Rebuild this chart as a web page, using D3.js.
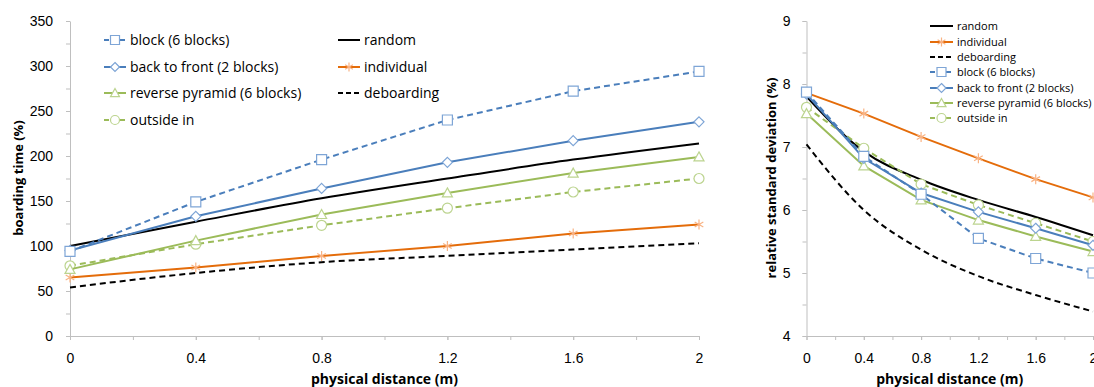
<html>
<head>
<meta charset="utf-8">
<title>Boarding time and relative standard deviation</title>
<style>
body { margin: 0; background: #fff; }
svg { font-family: "Open Sans", sans-serif; }
.axis path, .axis line { stroke: #bfbfbf; }
.axis text { fill: #000; font-size: 14px; }
.title { font-weight: bold; font-size: 14px; }
</style>
</head>
<body>
<script src="https://d3js.org/d3.v7.min.js"></script>
<script>

// x values (m)
var distances = [0, 0.4, 0.8, 1.2, 1.6, 2];

// boarding time (%) - left chart
var btRandom     = [100, 127, 153, 175, 196, 214];
var btIndividual = [65, 76, 89, 100, 114, 124];
var btDeboarding = [54, 70, 82, 89, 96, 103];
var btBlock      = [94, 149, 196, 240, 272, 294];
var btBackFront  = [95, 133, 164, 193, 217, 238];
var btPyramid    = [74, 106, 135, 159, 181, 199];
var btOutsideIn  = [78, 102, 123, 142, 160, 175];

// relative standard deviation (%) - right chart
var sdRandom     = [7.8, 6.93, 6.48, 6.16, 5.89, 5.6];
var sdIndividual = [7.86, 7.53, 7.16, 6.82, 6.49, 6.2];
var sdDeboarding = [7.04, 6.0, 5.37, 4.95, 4.65, 4.39];
var sdBlock      = [7.87, 6.85, 6.25, 5.55, 5.23, 5.0];
var sdBackFront  = [7.84, 6.82, 6.27, 5.97, 5.71, 5.44];
var sdPyramid    = [7.53, 6.7, 6.16, 5.84, 5.58, 5.34];
var sdOutsideIn  = [7.63, 6.98, 6.41, 6.08, 5.79, 5.5];

var seriesNames = ["random", "individual", "deboarding", "block (6 blocks)",
    "back to front (2 blocks)", "reverse pyramid (6 blocks)", "outside in"];

var xTicks = [0, 0.4, 0.8, 1.2, 1.6, 2];
var leftTicks = [0, 50, 100, 150, 200, 250, 300, 350];
var rightTicks = [4, 5, 6, 7, 8, 9];

// line styles per series
var styles = {
    "random":                     {color: "#000000", mark: null,       dash: null,  smooth: true},
    "individual":                 {color: "#e46c0a", mark: "star",     dash: null,  mcolor: "#f9b384"},
    "deboarding":                 {color: "#000000", mark: null,       dash: "6,4", smooth: true},
    "block (6 blocks)":           {color: "#4a7ebb", mark: "square",   dash: "6,4", mcolor: "#7ea5d6"},
    "back to front (2 blocks)":   {color: "#4a7ebb", mark: "diamond",  dash: null,  mcolor: "#7ea5d6"},
    "reverse pyramid (6 blocks)": {color: "#9bbb59", mark: "triangle", dash: null,  mcolor: "#bcd48f"},
    "outside in":                 {color: "#9bbb59", mark: "circle",   dash: "6,4", mcolor: "#bcd48f"}
};

var svg = d3.select("body").append("svg")
    .attr("width", 1094)
    .attr("height", 387);

function markerPath(type, s) {
    var h = s / 2;
    if (type == "square") return "M" + (-h) + "," + (-h) + "h" + s + "v" + s + "h" + (-s) + "Z";
    if (type == "diamond") return "M0," + (-h) + "L" + h + ",0L0," + h + "L" + (-h) + ",0Z";
    if (type == "triangle") return "M0," + (-h) + "L" + h + "," + (h * 0.8) + "L" + (-h) + "," + (h * 0.8) + "Z";
    if (type == "circle") return d3.symbol(d3.symbolCircle, Math.PI * h * h)();
    if (type == "star") {
        var a = h * Math.cos(Math.PI / 6), b = h * Math.sin(Math.PI / 6);
        return "M0," + (-h) + "V" + h + "M" + (-a) + "," + (-b) + "L" + a + "," + b +
               "M" + (-a) + "," + b + "L" + a + "," + (-b);
    }
}

function drawMarker(g, type, color, x, y, s) {
    g.append("path")
        .attr("transform", "translate(" + x + "," + y + ")")
        .attr("d", markerPath(type, s))
        .attr("fill", type == "star" ? "none" : "#fff")
        .attr("stroke", color)
        .attr("stroke-width", 1.2);
}

function drawChart(opt) {
    var x = d3.scaleLinear().domain([0, 2]).range([opt.left, opt.right]);
    var y = d3.scaleLinear().domain(opt.yDomain).range([336, 21]);
    var g = svg.append("g");

    // y axis, minor ticks every half step
    g.append("g")
        .attr("class", "axis")
        .attr("transform", "translate(" + opt.left + ",0)")
        .call(d3.axisLeft(y).tickValues(opt.yMinor).tickSize(4).tickFormat(""))
        .call(function(a) { a.select(".domain").remove(); });
    g.append("g")
        .attr("class", "axis")
        .attr("transform", "translate(" + opt.left + ",0)")
        .call(d3.axisLeft(y).tickValues(opt.yTicks).tickSize(4).tickSizeOuter(0)
            .tickPadding(opt.yPad).tickFormat(d3.format("d")));

    // x axis
    g.append("g")
        .attr("class", "axis")
        .attr("transform", "translate(0,336)")
        .call(d3.axisBottom(x).tickValues(d3.range(0, 2.01, 0.2)).tickSize(4).tickFormat(""))
        .call(function(a) { a.select(".domain").remove(); });
    g.append("g")
        .attr("class", "axis")
        .attr("transform", "translate(0,336)")
        .call(d3.axisBottom(x).tickValues(xTicks).tickSize(4).tickSizeOuter(0).tickPadding(13)
            .tickFormat(function(d) { return String(+d.toFixed(1)); }));

    // axis titles
    g.append("text")
        .attr("class", "title")
        .attr("x", (opt.left + opt.right) / 2)
        .attr("y", 384)
        .attr("text-anchor", "middle")
        .text("physical distance (m)");
    g.append("text")
        .attr("class", "title")
        .style("font-size", "13px")
        .attr("transform", "translate(" + opt.yTitleX + ",178) rotate(-90)")
        .attr("text-anchor", "middle")
        .text(opt.yTitle);

    // series, drawn from back to front
    var order = [2, 1, 0, 6, 5, 4, 3];
    order.forEach(function(i) {
        var name = seriesNames[i], st = styles[name], vals = opt.data[i];
        var pts = distances.map(function(d, j) { return [d, vals[j]]; });
        var line = d3.line()
            .x(function(d) { return x(d[0]); })
            .y(function(d) { return y(d[1]); })
            .curve(st.smooth ? d3.curveMonotoneX : d3.curveLinear);
        g.append("path")
            .datum(pts)
            .attr("d", line)
            .attr("fill", "none")
            .attr("stroke", st.color)
            .attr("stroke-width", 2)
            .attr("stroke-dasharray", st.dash);
        if (st.mark) {
            pts.forEach(function(p) {
                drawMarker(g, st.mark, st.mcolor, x(p[0]), y(p[1]), opt.markSize);
            });
        }
    });

    // legend
    opt.legend.forEach(function(l) {
        var st = styles[seriesNames[l.i]];
        var lg = g.append("g");
        lg.append("line")
            .attr("x1", l.x).attr("x2", l.x + opt.legLen)
            .attr("y1", l.y).attr("y2", l.y)
            .attr("stroke", st.color)
            .attr("stroke-width", 2)
            .attr("stroke-dasharray", st.dash ? "5,3" : null);
        if (st.mark) drawMarker(lg, st.mark, st.mcolor, l.x + opt.legLen / 2, l.y, opt.markSize - 1);
        lg.append("text")
            .attr("x", l.x + opt.legLen + 4)
            .attr("y", l.y)
            .attr("dy", "0.35em")
            .style("font-size", opt.legFont + "px")
            .text(seriesNames[l.i]);
    });
}

drawChart({
    left: 70, right: 699,
    yDomain: [0, 350],
    yTicks: leftTicks,
    yMinor: d3.range(0, 351, 25),
    yPad: 13,
    yTitle: "boarding time (%)",
    yTitleX: 23,
    markSize: 10,
    legLen: 22, legFont: 14,
    data: [btRandom, btIndividual, btDeboarding, btBlock, btBackFront, btPyramid, btOutsideIn],
    legend: [
        {i: 3, x: 104, y: 40}, {i: 4, x: 104, y: 67}, {i: 5, x: 104, y: 93}, {i: 6, x: 104, y: 120},
        {i: 0, x: 338, y: 40}, {i: 1, x: 338, y: 67}, {i: 2, x: 338, y: 93}
    ]
});

drawChart({
    left: 806.5, right: 1093,
    yDomain: [4, 9],
    yTicks: rightTicks,
    yMinor: d3.range(4, 9.01, 0.5),
    yPad: 12,
    yTitle: "relative standard deviation (%)",
    yTitleX: 776,
    markSize: 10,
    legLen: 23, legFont: 11,
    data: [sdRandom, sdIndividual, sdDeboarding, sdBlock, sdBackFront, sdPyramid, sdOutsideIn],
    legend: [
        {i: 0, x: 930, y: 26}, {i: 1, x: 930, y: 42}, {i: 2, x: 930, y: 57},
        {i: 3, x: 930, y: 72}, {i: 4, x: 930, y: 88}, {i: 5, x: 930, y: 103}, {i: 6, x: 930, y: 118}
    ]
});

</script>
</body>
</html>
